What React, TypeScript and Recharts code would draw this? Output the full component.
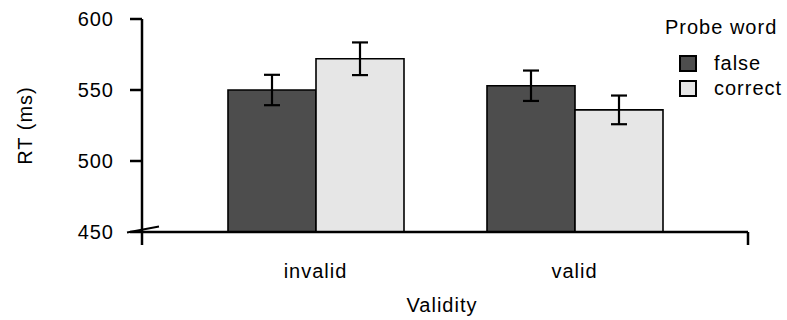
import { BarChart, Bar, XAxis, YAxis, ErrorBar, Legend, Label } from 'recharts';

// Mean RT per validity condition, split by probe word
const CATEGORIES = ['invalid', 'valid'];
const SERIES = ['false', 'correct'];
const FALSE_MEANS = [550, 553];
const FALSE_ERR = [10.7, 10.7];
const CORRECT_MEANS = [572, 536];
const CORRECT_ERR = [11.5, 10.1];
const Y_TICKS = [450, 500, 550, 600];
// group boundaries on the bottom axis (0 = left edge, 1 = between groups, 2 = right edge)
const EDGE_TICKS = [0, 1, 2];

const FONT = '"Liberation Sans", Arial, sans-serif';
const DARK = '#4d4d4d';
const LIGHT = '#e6e6e6';

const data = CATEGORIES.map((c, i) => ({
  validity: c,
  falseRt: FALSE_MEANS[i],
  falseErr: FALSE_ERR[i],
  correctRt: CORRECT_MEANS[i],
  correctErr: CORRECT_ERR[i],
}));

const textStyle = { fill: '#000', fontSize: 20, fontFamily: FONT, letterSpacing: 1 };
const axisStroke = { stroke: '#000', strokeWidth: 2.5 };

// y tick label; the lowest tick also gets the "//" axis-break mark
function YTick(props: any) {
  const { x, y, payload } = props;
  return (
    <g>
      <text x={x} y={y} dy="0.355em" textAnchor="end" {...textStyle}>
        {payload.value}
      </text>
      {payload.value === Y_TICKS[0] && (
        <line x1={x + 13} y1={y + 0.5} x2={x + 45} y2={y - 5.5} stroke="#000" strokeWidth={1.8} />
      )}
    </g>
  );
}

function YTitle(props: any) {
  const { viewBox } = props;
  const x = 32;
  const y = viewBox.y + viewBox.height / 2;
  return (
    <text x={x} y={y} transform={`rotate(-90, ${x}, ${y})`} textAnchor="middle" {...textStyle}>
      RT (ms)
    </text>
  );
}

function ProbeLegend(props: any) {
  const { payload = [] } = props;
  return (
    <div style={{ fontFamily: FONT, fontSize: 20, lineHeight: '20px', letterSpacing: 1, color: '#000' }}>
      <div>Probe word</div>
      {payload.map((p: any, i: number) => (
        <div key={p.value} style={{ display: 'flex', alignItems: 'center', height: 20, marginTop: i === 0 ? 16 : 5 }}>
          <span
            style={{
              display: 'inline-block', width: 14, height: 13, marginLeft: 14, marginRight: 17,
              background: p.color, border: '2px solid #000',
            }}
          />
          <span>{p.value}</span>
        </div>
      ))}
    </div>
  );
}

export default function App() {
  return (
    <div style={{ position: 'absolute', left: 0, top: 0, background: '#fff' }}>
      <BarChart
        width={787}
        height={320}
        data={data}
        margin={{ top: 19, right: 39, bottom: 0, left: 0 }}
        barGap={0}
        barCategoryGap={42}
      >
        <XAxis
          xAxisId="a"
          type="number"
          domain={[0, 2]}
          ticks={EDGE_TICKS}
          allowDataOverflow
          height={1}
          tickSize={13}
          axisLine={axisStroke}
          tickLine={axisStroke}
          tickFormatter={() => ''}
        />
        <XAxis
          xAxisId="b"
          dataKey="validity"
          height={87}
          padding={{ left: 44, right: 44 }}
          axisLine={false}
          tickLine={false}
          tickSize={0}
          tickMargin={31}
          tick={textStyle}
        >
          <Label value="Validity" position="insideBottom" offset={8} dx={-3} style={textStyle} />
        </XAxis>
        <YAxis
          domain={[450, 600]}
          ticks={Y_TICKS}
          allowDataOverflow
          width={142}
          tickSize={12}
          tickMargin={16}
          axisLine={axisStroke}
          tickLine={axisStroke}
          tick={YTick}
        >
          <Label content={YTitle} />
        </YAxis>
        <Legend
          layout="vertical"
          align="center"
          verticalAlign="middle"
          itemSorter={(p: any) => SERIES.indexOf(p.value)}
          content={ProbeLegend}
          wrapperStyle={{ left: 665, top: 17, width: 'auto' }}
        />
        <Bar xAxisId="b" dataKey="falseRt" name={SERIES[0]} fill={DARK} stroke="#000" strokeWidth={1.6} isAnimationActive={false}>
          <ErrorBar dataKey="falseErr" width={8} stroke="#000" strokeWidth={2.2} isAnimationActive={false} />
        </Bar>
        <Bar xAxisId="b" dataKey="correctRt" name={SERIES[1]} fill={LIGHT} stroke="#000" strokeWidth={1.6} isAnimationActive={false}>
          <ErrorBar dataKey="correctErr" width={8} stroke="#000" strokeWidth={2.2} isAnimationActive={false} />
        </Bar>
      </BarChart>
    </div>
  );
}
